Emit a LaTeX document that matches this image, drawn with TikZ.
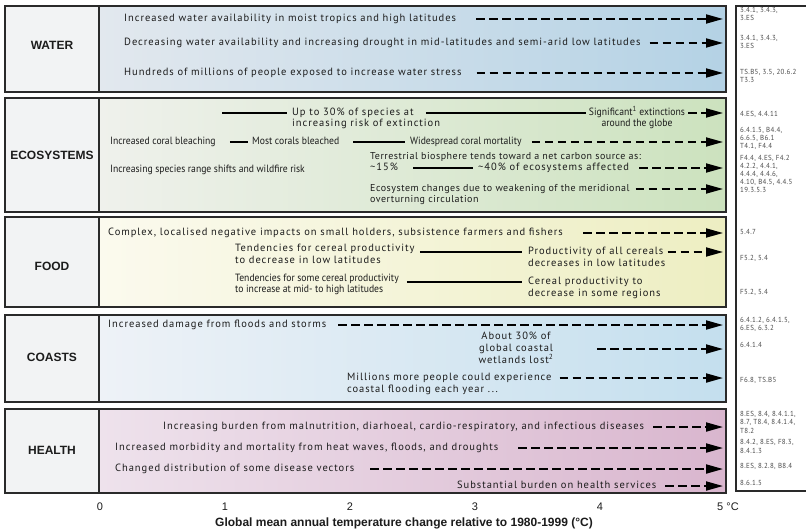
\documentclass[tikz,border=0pt]{standalone}
\usepackage{fontspec}
\setmainfont{PT Sans}
\newfontfamily\bodyfont[LetterSpace=9.0]{PT Sans}
\newfontfamily\smallbodyfont[LetterSpace=5.0]{PT Sans}
\newfontfamily\narrowfont[FakeStretch=0.92]{PT Sans}
\newfontfamily\reffont[FakeStretch=0.95, LetterSpace=5.0]{PT Sans}
\newfontfamily\headfont{Liberation Sans}
\usetikzlibrary{arrows.meta}

\definecolor{framecol}{HTML}{2A2A2A}
\definecolor{inkcol}{HTML}{1C1C1C}
\definecolor{refcol}{HTML}{4A4A4A}
\definecolor{labelbg}{HTML}{F2F3F4}
\definecolor{waterL}{HTML}{E2E8EE}
\definecolor{waterR}{HTML}{B4D2E5}
\definecolor{ecoL}{HTML}{EFF1EC}
\definecolor{ecoR}{HTML}{CCE2BE}
\definecolor{foodL}{HTML}{FBFAEE}
\definecolor{foodR}{HTML}{EDEEC2}
\definecolor{coastL}{HTML}{EEF2F7}
\definecolor{coastR}{HTML}{C4DFEE}
\definecolor{healthL}{HTML}{EEE2EC}
\definecolor{healthR}{HTML}{D9B6CE}

\begin{document}
\begin{tikzpicture}[x=1pt, y=-1pt,
  txt/.style={font=\bodyfont\fontsize{10.5}{12}\selectfont, text=inkcol,
    inner sep=0pt, text height=7.4pt, text depth=2.2pt, anchor=west},
  stxt/.style={txt, font=\smallbodyfont\fontsize{10}{12}\selectfont},
  ntxt/.style={txt, font=\narrowfont\fontsize{10.5}{12}\selectfont},
  ctxt/.style={txt, anchor=center},
  cntxt/.style={ntxt, anchor=center},
  reftxt/.style={font=\reffont\fontsize{7.3}{8}\selectfont, text=refcol,
    inner sep=0pt, anchor=west},
  cat/.style={font=\headfont\bfseries\fontsize{12}{14}\selectfont, text=inkcol, inner sep=0pt},
  tick/.style={font=\headfont\fontsize{11}{13}\selectfont, text=inkcol, inner sep=0pt},
  axistitle/.style={font=\headfont\bfseries\fontsize{12}{14}\selectfont, text=inkcol, inner sep=0pt},
  panel/.style={draw=framecol, line width=1.3pt},
  trend/.style={line width=1.9pt, draw=black},
  risk/.style={trend, dash pattern=on 8.5pt off 4.5pt, -{Triangle[length=17pt, width=9pt]}},
]
\useasboundingbox (0,0) rectangle (806,532);
\fill[white] (0,0) rectangle (806,532);

% five sector panels: label column plus shaded impact area
\foreach \ya/\yb/\yl/\lc/\rc/\lab/\nm in {
    6/92/45/waterL/waterR/WATER/water,
    98/212/155/ecoL/ecoR/ECOSYSTEMS/eco,
    217/307/266/foodL/foodR/FOOD/food,
    315/402/357/coastL/coastR/COASTS/coast,
    409/493/450/healthL/healthR/HEALTH/health}{
  \fill[labelbg] (5,\ya) rectangle (99,\yb);
  \shade[left color=\lc, right color=\rc] (99,\ya) rectangle (726,\yb);
  \draw[panel] (5,\ya) rectangle (726,\yb);
  \draw[panel] (99,\ya) -- (99,\yb);
  \node[cat] (lab-\nm) at (52,\yl) {\lab};
}

% reference column
\draw[panel, fill=white] (736,6) rectangle (812,491);

% right end of every trend: 5 degrees
\coordinate (t5) at (723,0);

% ---------------- WATER
\node[txt] (w1) at (124,19) {Increased water availability in moist tropics and high latitudes};
\draw[risk] ([xshift=20pt]w1.east) -- (w1.east -| t5);
\node[txt] (w2) at (124,43) {Decreasing water availability and increasing drought in mid-latitudes and semi-arid low latitudes};
\draw[risk] ([xshift=9pt]w2.east) -- (w2.east -| t5);
\node[txt] (w3) at (124,73) {Hundreds of millions of people exposed to increase water stress};
\draw[risk] ([xshift=15pt]w3.east) -- (w3.east -| t5);

% ---------------- ECOSYSTEMS
\coordinate (e1s) at (222,113);
\node[txt] (e1a) at (292,113) {Up to 30\% of species at};
\node[txt] (e1b) at (292,124) {increasing risk of extinction};
\node[cntxt] (e1c) at (637,113) {Significant\textsuperscript{1} extinctions};
\node[cntxt] (e1d) at (637,124) {around the globe};
\draw[trend] (e1s) -- ([xshift=-5pt]e1a.west);
\draw[trend] ([xshift=12pt]e1a.east) -- ([xshift=-3pt]e1c.west);
\draw[risk] ([xshift=3pt]e1c.east) -- (e1c.east -| t5);

\node[ntxt] (e2a) at (110,142) {Increased coral bleaching};
\node[ntxt] (e2b) at (252,142) {Most corals bleached};
\node[ntxt] (e2c) at (410,142) {Widespread coral mortality};
\draw[trend] ([xshift=14pt]e2a.east) -- ([xshift=-4pt]e2b.west);
\draw[trend] ([xshift=14pt]e2b.east) -- ([xshift=-5pt]e2c.west);
\draw[risk] ([xshift=10pt]e2c.east) -- (e2c.east -| t5);

\node[stxt] (e3a) at (370,157) {Terrestrial biosphere tends toward a net carbon source as:};
\node[txt] (e3b) at (370,168) {\textasciitilde15\%};
\node[txt] (e3c) at (478,168) {\textasciitilde40\% of ecosystems affected};
\draw[trend] ([xshift=15pt]e3b.east) -- ([xshift=-5pt]e3c.west);
\draw[risk] ([xshift=10pt]e3c.east) -- (e3c.east -| t5);

\node[ntxt] (e4) at (110,170) {Increasing species range shifts and wildfire risk};

\node[stxt] (e5a) at (370,189) {Ecosystem changes due to weakening of the meridional};
\node[stxt] (e5b) at (370,200) {overturning circulation};
\draw[risk] ([xshift=6pt]e5a.east) -- (e5a.east -| t5);

% ---------------- FOOD
\node[txt] (f1) at (108,233) {Complex, localised negative impacts on small holders, subsistence farmers and fishers};
\draw[risk] ([xshift=20pt]f1.east) -- (f1.east -| t5);

\node[txt] (f2a) at (235,249) {Tendencies for cereal productivity};
\node[txt] (f2b) at (235,261) {to decrease in low latitudes};
\node[txt] (f2c) at (528,252) {Productivity of all cereals};
\node[txt] (f2d) at (528,264) {decreases in low latitudes};
\draw[trend] ([xshift=5pt]f2a.east |- f2c.west) -- ([xshift=-6pt]f2c.west);
\draw[risk] ([xshift=4pt]f2c.east) -- (f2c.east -| t5);

\node[ntxt] (f3a) at (235,279) {Tendencies for some cereal productivity};
\node[ntxt] (f3b) at (235,290) {to increase at mid- to high latitudes};
\node[txt] (f3c) at (528,282) {Cereal productivity to};
\node[txt] (f3d) at (528,294) {decrease in some regions};
\draw[trend] ([xshift=8pt]f3a.east |- f3c.west) -- ([xshift=-6pt]f3c.west);

% ---------------- COASTS
\node[txt] (c1) at (108,325) {Increased damage from floods and storms};
\draw[risk] ([xshift=12pt]c1.east) -- (c1.east -| t5);
\node[ctxt] (c2a) at (516,337) {About 30\% of};
\node[ctxt] (c2b) at (516,349) {global coastal};
\node[ctxt] (c2c) at (516,361) {wetlands lost\textsuperscript{2}};
\draw[risk] ([xshift=44pt]c2b.east) -- (c2b.east -| t5);
\node[txt] (c3a) at (347,378) {Millions more people could experience};
\node[txt] (c3b) at (347,390) {coastal flooding each year ...};
\draw[risk] ([xshift=8pt]c3a.east) -- (c3a.east -| t5);

% ---------------- HEALTH
\node[txt] (h1) at (163,427) {Increasing burden from malnutrition, diarhoeal, cardio-respiratory, and infectious diseases};
\draw[risk] ([xshift=9pt]h1.east) -- (h1.east -| t5);
\node[txt] (h2) at (115,448) {Increased morbidity and mortality from heat waves, floods, and droughts};
\draw[risk] ([xshift=20pt]h2.east) -- (h2.east -| t5);
\node[txt] (h3) at (115,469) {Changed distribution of some disease vectors};
\draw[risk] ([xshift=16pt]h3.east) -- (h3.east -| t5);
\node[txt] (h4) at (457,486) {Substantial burden on health services};
\draw[risk] ([xshift=9pt]h4.east) -- (h4.east -| t5);

% ---------------- references
\foreach \yy/\tx [count=\i] in {
    10/{3.4.1, 3.4.3,}, 18/{3.ES},
    38/{3.4.1, 3.4.3,}, 46/{3.ES},
    72/{TS.B5, 3.5, 20.6.2}, 80/{T3.3},
    114/{4.ES, 4.4.11},
    130/{6.4.1.5, B4.4,}, 138/{6.6.5, B6.1}, 146/{T4.1, F4.4},
    158/{F4.4, 4.ES, F4.2}, 166/{4.2.2, 4.4.1,}, 174/{4.4.4, 4.4.6,},
    182/{4.10, B4.5, 4.4.5}, 190/{19.3.5.3},
    232/{5.4.7}, 258/{F5.2, 5.4}, 292/{F5.2, 5.4},
    320/{6.4.1.2, 6.4.1.5,}, 328/{6.ES, 6.3.2}, 345/{6.4.1.4},
    380/{F6.8, TS.B5},
    414/{8.ES, 8.4, 8.4.1.1,}, 422/{8.7, T8.4, 8.4.1.4,}, 431/{T8.2},
    442/{8.4.2, 8.ES, F8.3,}, 451/{8.4.1.3},
    466/{8.ES, 8.2.8, B8.4}, 483/{8.6.1.5}}
  \node[reftxt] (ref\i) at (740,\yy) {\tx};

% ---------------- temperature axis
\foreach \t in {0,...,4}
  \node[tick] (tk\t) at ({100+125*\t},507) {\t};
\node[tick, anchor=west] (tk5) at (717,507) {5 °C};
\node[axistitle] (xtitle) at (404,523) {Global mean annual temperature change relative to 1980-1999 (°C)};
\end{tikzpicture}
\end{document}
